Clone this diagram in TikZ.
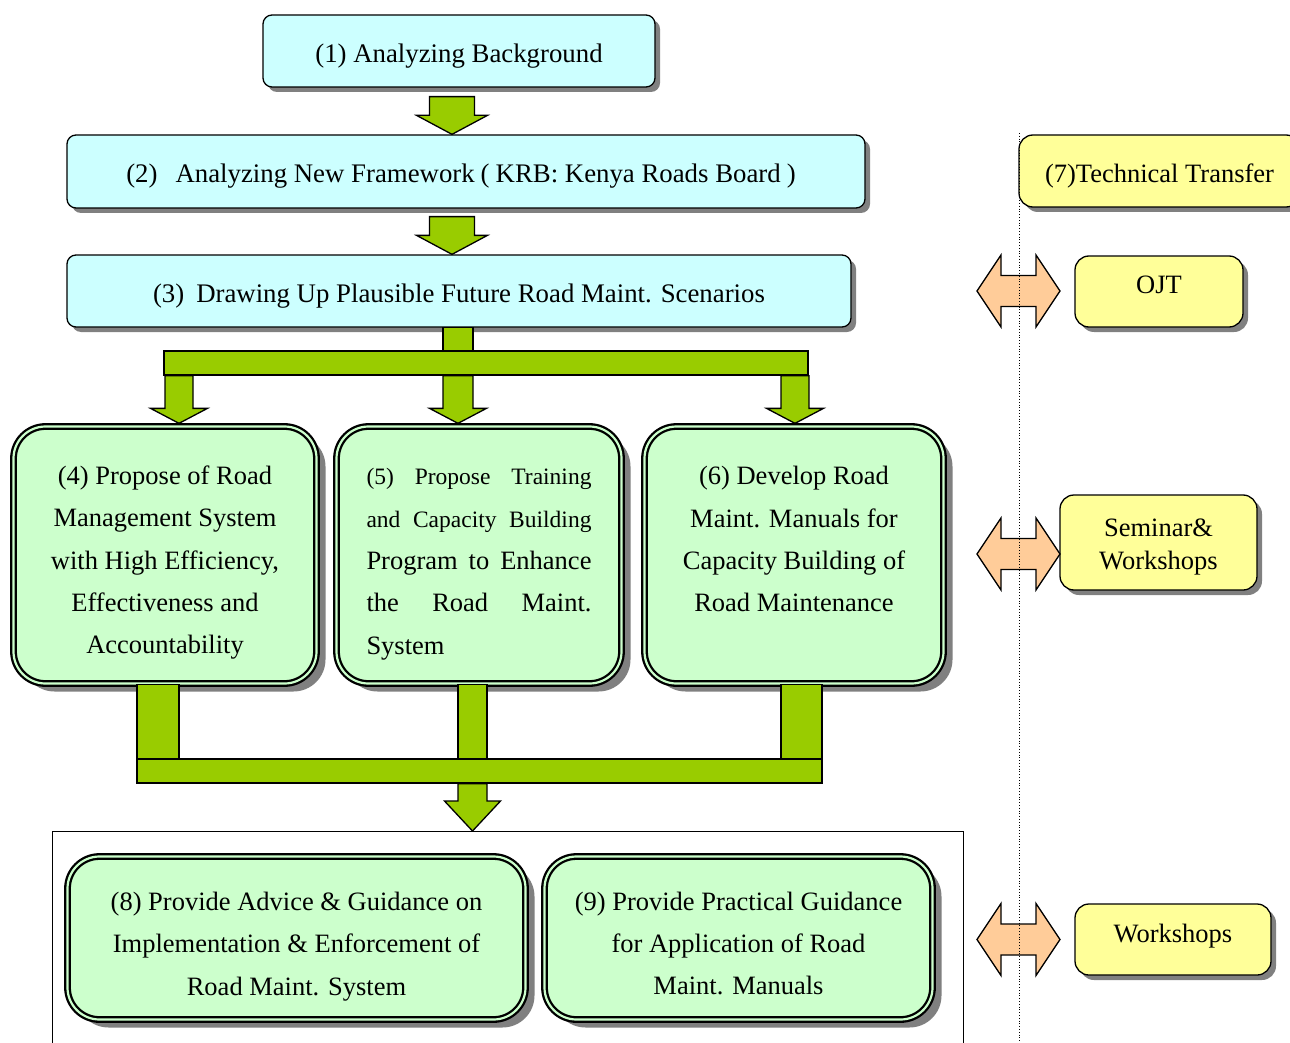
\documentclass[tikz,border=0pt]{standalone}
\usepackage{fontspec}
\setmainfont{Liberation Serif}
\usetikzlibrary{shadows,calc}

\definecolor{boxcyan}{HTML}{CCFFFF}
\definecolor{boxgreen}{HTML}{CCFFCC}
\definecolor{boxyellow}{HTML}{FFFF99}
\definecolor{arrowlime}{HTML}{99CC00}
\definecolor{arroworange}{HTML}{FFCC99}
\definecolor{shadowgray}{HTML}{808080}

\tikzset{
  stepbox/.style={draw, line width=1.3pt, rounded corners=9pt, fill=boxcyan, inner sep=0pt,
    drop shadow={shadow xshift=5pt, shadow yshift=-5pt, fill=shadowgray, opacity=1},
    font=\fontsize{26.8}{30}\selectfont, text height=28pt},
  taskbox/.style={draw, line width=2.3pt, double=boxgreen, double distance=2.2pt,
    rounded corners=32pt, fill=boxgreen, inner sep=0pt, align=center,
    drop shadow={shadow xshift=9pt, shadow yshift=-8pt, fill=shadowgray, opacity=1},
    font=\fontsize{26.5}{42.3}\selectfont},
  transferbox/.style={draw, line width=1.3pt, rounded corners=14pt, fill=boxyellow,
    inner sep=0pt, align=center,
    drop shadow={shadow xshift=5pt, shadow yshift=-5pt, fill=shadowgray, opacity=1},
    font=\fontsize{26.5}{33}\selectfont},
  fatbody/.style={fill=arrowlime, draw=black, line width=1.3pt},
  twoway/.style={fill=arroworange, draw=black, line width=1.3pt},
}

% top, tip, shaft half width, head half width, head length
\newcommand{\fatdown}[5]{%
  \draw[fatbody] let \p1=#1, \p2=#2 in
    (\x2-#3,\y1) -- (\x2+#3,\y1) -- (\x2+#3,\y2+#5) -- (\x2+#4,\y2+#5)
    -- (\x2,\y2) -- (\x2-#4,\y2+#5) -- (\x2-#3,\y2+#5) -- cycle;}

\newcommand{\twowayarrow}[1]{%
  \draw[twoway] (#1) ++(-41.5,0) -- ++(24,-36) -- ++(0,20.5) -- ++(35,0)
    -- ++(0,-20.5) -- ++(24,36) -- ++(-24,36) -- ++(0,-20.5) -- ++(-35,0)
    -- ++(0,20.5) -- cycle;}

\begin{document}
\begin{tikzpicture}[x=1pt, y=-1pt]
  \useasboundingbox (0,0) rectangle (1290,1043);
  \clip (0,0) rectangle (1290,1043);

  % Frame round (8) and (9)
  \draw[line width=0.8pt] (52,1050) -- (52,831) -- (963,831) -- (963,1050);
  \coordinate (grouptop) at (472.5,831);

  % Steps
  \node[stepbox, minimum width=392pt, minimum height=72pt] (b1) at (459,51)
    {(1) Analyzing Background};
  \node[stepbox, minimum width=798pt, minimum height=73pt] (b2) at (466,171.5)
    {\hspace{-10pt}(2)\hspace{18pt}Analyzing New Framework\hspace{6pt}(\hspace{6pt}KRB: Kenya Roads Board\hspace{6pt})};
  \node[stepbox, minimum width=784pt, minimum height=72pt] (b3) at (459,291)
    {(3)\hspace{12pt}Drawing Up Plausible Future Road Maint. Scenarios};

  \node[taskbox, minimum width=303pt, minimum height=257pt, text height=203pt] (b4) at (165,555)
    {(4) Propose of Road\\Management System\\with High Efficiency,\\Effectiveness and\\Accountability};
  \node[taskbox, minimum width=285pt, minimum height=257pt, text height=204pt] (b5) at (479,555)
    {{\fontsize{23.5}{42.3}\selectfont\makebox[225pt][s]{(5)\hfill Propose\hfill Training}}\\
     {\fontsize{23.5}{42.3}\selectfont\makebox[225pt][s]{and\hfill Capacity\hfill Building}}\\
     \makebox[225pt][s]{Program\hfill to\hfill Enhance}\\
     \makebox[225pt][s]{the\hfill Road\hfill Maint.}\\
     \makebox[225pt][l]{System}};
  \node[taskbox, minimum width=299pt, minimum height=257pt, text height=198pt] (b6) at (794,555)
    {(6) Develop Road\\Maint. Manuals for\\Capacity Building of\\Road Maintenance\\\mbox{}};

  \node[taskbox, minimum width=458pt, minimum height=163pt, text height=120pt] (b8) at (296.5,938)
    {(8) Provide Advice \& Guidance on\\Implementation \& Enforcement of\\Road Maint. System};
  \node[taskbox, minimum width=388pt, minimum height=163pt, text height=114pt] (b9) at (738.5,938)
    {(9) Provide Practical Guidance\\for Application of Road\\Maint. Manuals};

  % Technical transfer
  \node[transferbox, minimum width=281pt, minimum height=72pt, text height=28pt] (tt) at (1159.5,171)
    {(7)Technical Transfer};
  \node[transferbox, minimum width=168pt, minimum height=71pt, text depth=14pt] (ojt) at (1159,291.5)
    {OJT};
  \node[transferbox, minimum width=197pt, minimum height=95pt, text height=60pt] (sem) at (1158.5,542.5)
    {Seminar\&\\Workshops};
  \node[transferbox, minimum width=196pt, minimum height=71pt, text depth=11.5pt] (ws) at (1173,939.5)
    {Workshops};

  % Arrows between steps
  \fatdown{([yshift=-9pt]b1.south)}{([xshift=-14pt]b2.north)}{22.5pt}{35.5pt}{19pt}
  \fatdown{([yshift=-8pt]b2.south)}{([xshift=-7pt]b3.north)}{22.5pt}{35.5pt}{19pt}

  % Split to (4)-(6)
  \node[fatbody, minimum width=644pt, minimum height=24pt, inner sep=0pt] (bar1) at (486,363) {};
  \draw[fatbody] ([xshift=-16pt]b3.south) rectangle ([xshift=14pt]b3.south |- bar1.north);
  \fatdown{(bar1.south)}{([xshift=14pt,yshift=2pt]b4.north)}{14pt}{28.5pt}{15pt}
  \fatdown{(bar1.south)}{([xshift=-21pt,yshift=2pt]b5.north)}{15pt}{28.5pt}{15pt}
  \fatdown{(bar1.south)}{([xshift=1pt,yshift=2pt]b6.north)}{14pt}{28.5pt}{15pt}

  % Merge to (8)-(9)
  \node[fatbody, minimum width=685pt, minimum height=24pt, inner sep=0pt] (bar2) at (479.5,771) {};
  \draw[fatbody] ([xshift=-28pt]b4.south) rectangle ([xshift=14pt]b4.south |- bar2.north);
  \draw[fatbody] ([xshift=-21pt]b5.south) rectangle ([xshift=8pt]b5.south |- bar2.north);
  \draw[fatbody] ([xshift=-13pt]b6.south) rectangle ([xshift=28pt]b6.south |- bar2.north);
  \fatdown{(bar2.south)}{(grouptop)}{14.5pt}{28pt}{30pt}

  % Two-way arrows
  \coordinate (tw1) at (1018.5,291);
  \coordinate (tw2) at (1018.5,554);
  \coordinate (tw3) at (1018.5,939.5);
  \twowayarrow{tw1}
  \twowayarrow{tw2}
  \twowayarrow{tw3}

  \draw[dotted, line width=0.8pt] (1019,133) -- (1019,1043);
\end{tikzpicture}
\end{document}
